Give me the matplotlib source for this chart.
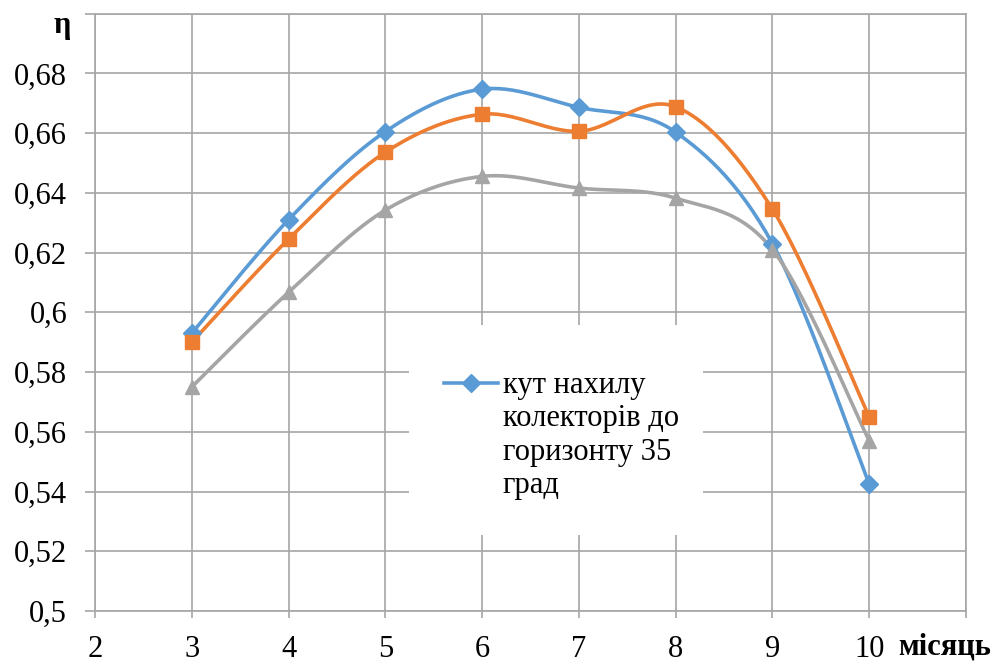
import numpy as np
import matplotlib
matplotlib.use("Agg")
import matplotlib.pyplot as plt
from matplotlib.patches import Rectangle
from matplotlib.lines import Line2D

months = [3, 4, 5, 6, 7, 8, 9, 10]
eta_35 = [0.593, 0.631, 0.6605, 0.6747, 0.6686, 0.6603, 0.623, 0.5425]
eta_orange = [0.590, 0.6245, 0.6536, 0.6663, 0.6606, 0.6688, 0.6345, 0.565]
eta_gray = [0.575, 0.6067, 0.6342, 0.6455, 0.6416, 0.6382, 0.621, 0.557]
legend_label = "кут нахилу\nколекторів до\nгоризонту 35\nград"
ytick_vals = [0.5, 0.52, 0.54, 0.56, 0.58, 0.6, 0.62, 0.64, 0.66, 0.68]
ytick_labels = ["0,5", "0,52", "0,54", "0,56", "0,58", "0,6", "0,62", "0,64", "0,66", "0,68"]
xtick_vals = [2, 3, 4, 5, 6, 7, 8, 9, 10]

plt.rcParams["font.family"] = ["Liberation Serif", "FreeSerif", "DejaVu Serif"]
GRID = "#a6a6a6"


def smooth(x, y, n=30):
    """Excel-style smoothed line (Catmull-Rom Bezier segments)."""
    P = np.column_stack([x, y]).astype(float)
    P = np.vstack([P[0], P, P[-1]])
    out = []
    t = np.linspace(0, 1, n)[:, None]
    for i in range(1, len(P) - 2):
        p0, p3 = P[i], P[i + 1]
        c1 = p0 + (P[i + 1] - P[i - 1]) / 6.0
        c2 = p3 - (P[i + 2] - P[i]) / 6.0
        seg = ((1 - t) ** 3) * p0 + 3 * ((1 - t) ** 2) * t * c1 + 3 * (1 - t) * t ** 2 * c2 + t ** 3 * p3
        out.append(seg if i == 1 else seg[1:])
    S = np.vstack(out)
    return S[:, 0], S[:, 1]


fig = plt.figure(figsize=(9.99, 6.64), dpi=100)
ax = fig.add_axes([95 / 999, 1 - 611 / 664, 871 / 999, (611 - 13.6) / 664])
ax.set_xlim(2, 11)
ax.set_ylim(0.5, 0.7)
ax.set_axisbelow(True)
ax.grid(True, color=GRID, linewidth=1.2)
for s in ax.spines.values():
    s.set_color(GRID)
    s.set_linewidth(1.2)

ax.set_xticks(list(range(2, 12)))
ax.set_xticklabels([str(v) for v in xtick_vals] + [""])
ax.set_yticks(ytick_vals + [0.7])
ax.set_yticklabels(ytick_labels + [""])
ax.tick_params(axis="x", length=5, width=1.2, color=GRID, pad=12, labelsize=22)
ax.tick_params(axis="y", length=7, width=1.2, color=GRID, pad=13, labelsize=22)

series = [
    (eta_35, "#5b9bd5", "D", 9),
    (eta_orange, "#ed7d31", "s", 10),
    (eta_gray, "#a5a5a5", "^", 10),
]
for vals, col, mk, ms in series:
    sx, sy = smooth(months, vals)
    ax.plot(sx, sy, color=col, linewidth=2.6, zorder=3, solid_capstyle="round")
    ax.plot(months, vals, linestyle="none", marker=mk, color=col, markersize=ms, zorder=4)

# legend (only first series), white box over gridlines
ax.add_patch(Rectangle((0.3605, 0.1272), 0.3375, 0.3515, transform=ax.transAxes,
                       facecolor="white", edgecolor="none", zorder=2))
ax.add_line(Line2D([0.4007, 0.4627], [0.3817, 0.3817], transform=ax.transAxes,
                   color="#5b9bd5", linewidth=2.6, zorder=5))
ax.add_line(Line2D([0.4317], [0.3817], transform=ax.transAxes, marker="D",
                   color="#5b9bd5", markersize=9, zorder=5))
ax.text(0.4684, 0.4018, legend_label, transform=ax.transAxes, ha="left", va="top",
        fontsize=22, linespacing=1.2, zorder=6)

fig.text(62 / 999, 1 - 25 / 664, "η", ha="center", va="center", fontsize=22,
         fontweight="bold")
fig.text(898 / 999, 1 - 647 / 664, "місяць", ha="left", va="center", fontsize=22,
         fontweight="bold")

fig.savefig("out.png", dpi=100)
